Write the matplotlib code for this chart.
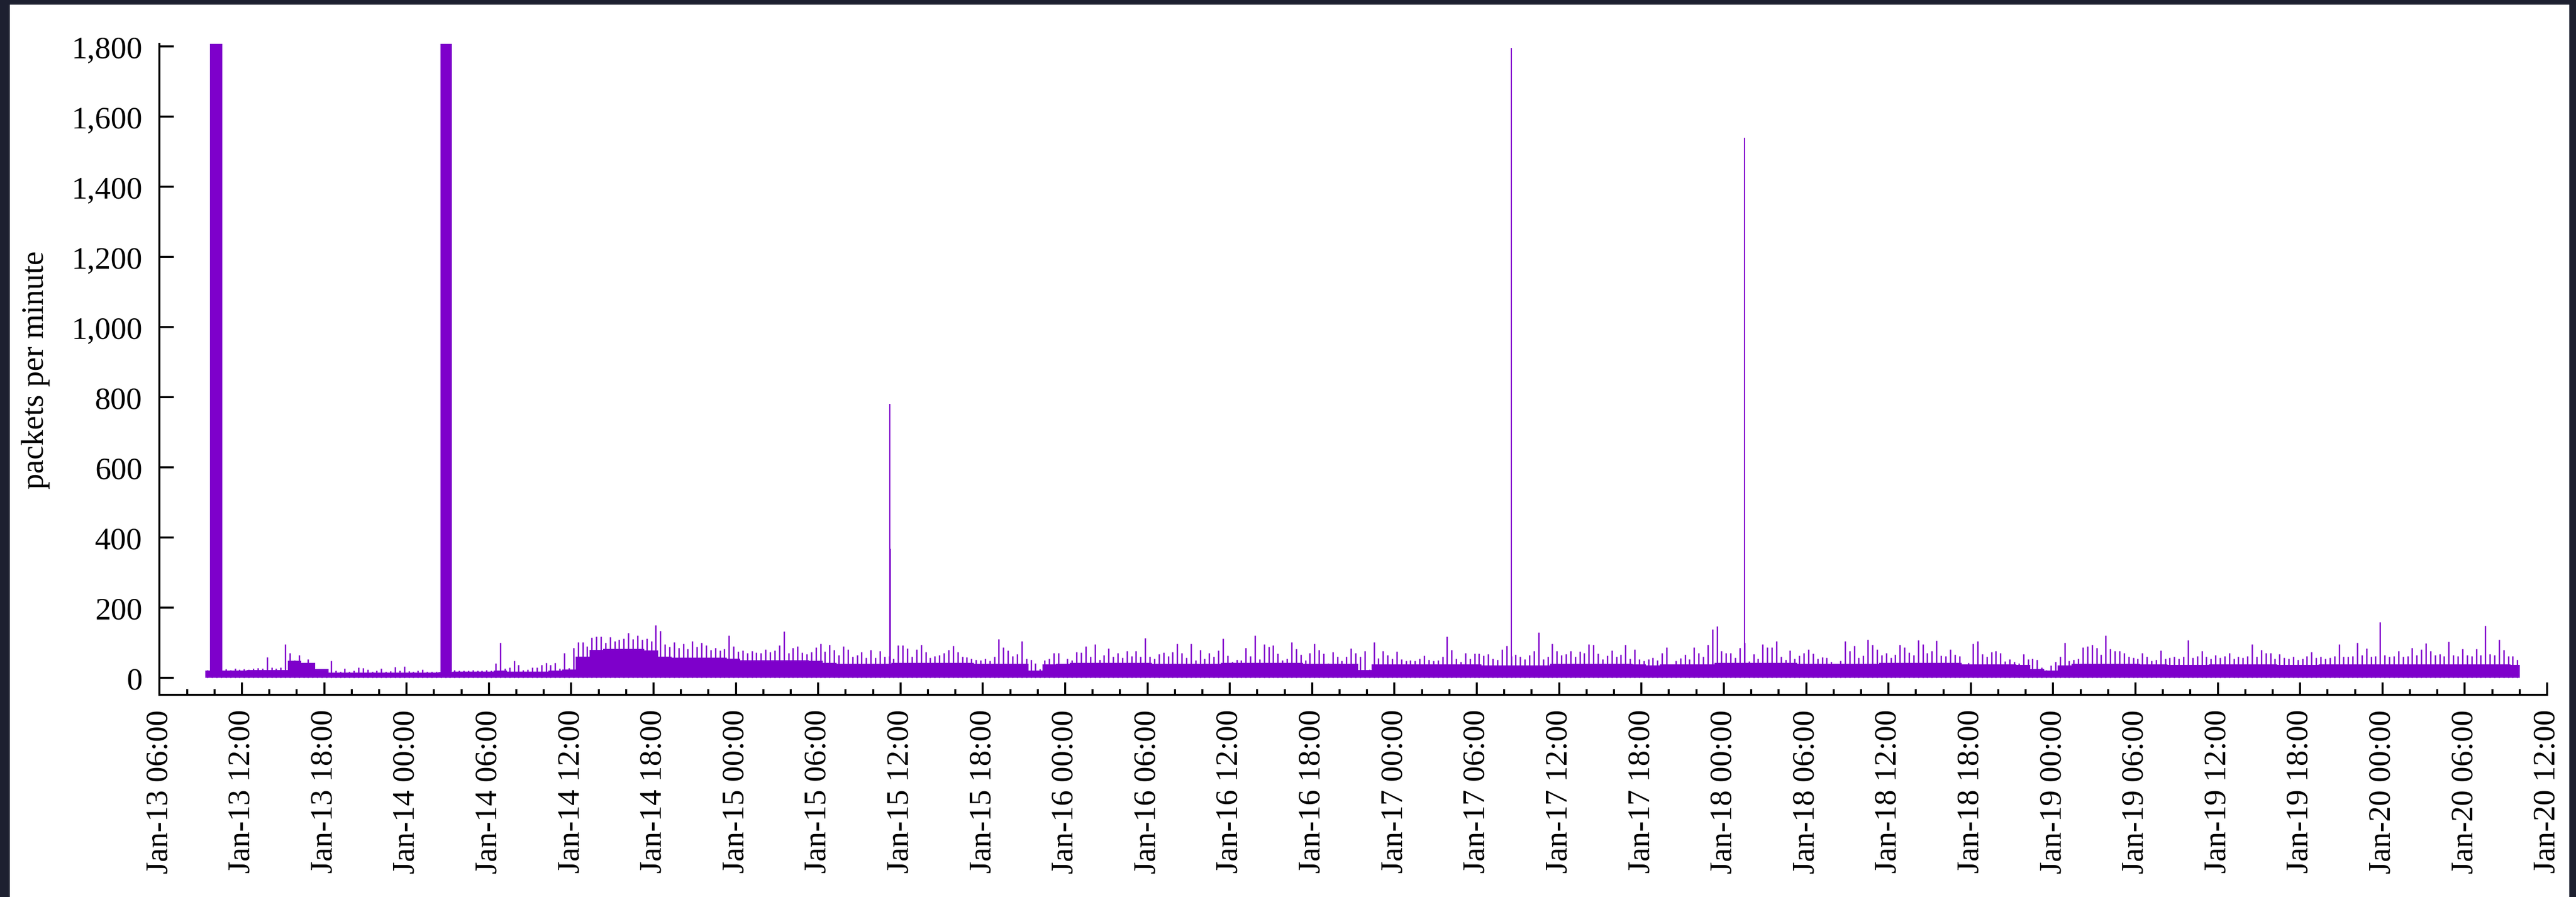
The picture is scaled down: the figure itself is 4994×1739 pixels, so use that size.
import numpy as np
import pandas as pd
import matplotlib
matplotlib.use('Agg')
import matplotlib.pyplot as plt
import matplotlib.dates as mdates
from matplotlib.patches import Rectangle
from matplotlib.ticker import FuncFormatter, MultipleLocator

plt.rcParams['font.family'] = ['Liberation Serif', 'DejaVu Serif']

purple = '#7e00cb'

# peak packets per minute in each 20 minute slot, 6 hours per row, from Jan-13 09:20
peak_rows = [
    [22, 20, 20, 22, 25, 22, 26, 24, 25, 24, 27, 28, 26, 59, 30, 27, 30, 96],
    [70, 50, 65, 40, 53, 28, 24, 22, 25, 48, 20, 18, 27, 18, 20, 30, 28, 24],
    [18, 20, 27, 18, 19, 31, 20, 32, 19, 18, 20, 24, 18, 17, 18, 18, 18, 18],
    [22, 20, 21, 20, 22, 21, 20, 22, 21, 41, 100, 27, 29, 48, 36, 22, 24, 30],
    [30, 36, 42, 37, 42, 26, 70, 28, 85, 101, 101, 90, 115, 117, 118, 100, 116, 105],
    [108, 112, 128, 110, 121, 108, 112, 105, 150, 134, 95, 88, 101, 85, 97, 82, 105, 88],
    [100, 92, 80, 85, 78, 82, 120, 89, 75, 78, 70, 76, 72, 70, 81, 74, 78, 92],
    [132, 70, 85, 90, 72, 68, 74, 87, 97, 75, 94, 79, 65, 89, 81, 60, 65, 74],
    [58, 79, 57, 76, 60, 62, 55, 93, 93, 84, 60, 81, 94, 74, 58, 62, 65, 70],
    [79, 91, 73, 60, 59, 55, 52, 50, 54, 48, 60, 110, 87, 78, 62, 68, 104, 55],
    [51, 41, 25, 50, 54, 70, 71, 40, 55, 50, 74, 72, 90, 60, 96, 52, 65, 83],
    [60, 70, 58, 77, 62, 76, 60, 113, 60, 55, 67, 72, 62, 74, 97, 71, 58, 97],
    [50, 80, 55, 71, 60, 78, 111, 63, 45, 51, 50, 85, 61, 121, 53, 95, 88, 92],
    [69, 50, 55, 102, 82, 66, 50, 70, 97, 79, 69, 41, 73, 60, 48, 60, 84, 71],
    [60, 76, 23, 102, 56, 76, 64, 55, 75, 53, 49, 50, 49, 54, 63, 52, 48, 50],
    [60, 117, 79, 55, 45, 70, 55, 69, 69, 63, 68, 55, 51, 81, 91, 62, 66, 60],
    [53, 65, 77, 129, 53, 60, 97, 77, 65, 68, 76, 60, 75, 70, 95, 94, 69, 53],
    [63, 78, 60, 66, 94, 55, 81, 53, 48, 53, 57, 50, 70, 87, 25, 49, 56, 66],
    [53, 87, 70, 60, 94, 138, 147, 77, 70, 70, 57, 85, 100, 47, 68, 55, 95, 87],
    [87, 105, 60, 52, 78, 55, 63, 70, 81, 69, 55, 59, 57, 45, 37, 49, 104, 77],
    [91, 57, 63, 109, 94, 81, 64, 71, 57, 66, 94, 86, 72, 65, 107, 96, 71, 77],
    [106, 63, 61, 81, 66, 61, 37, 42, 97, 105, 67, 60, 73, 77, 71, 47, 53, 45],
    [41, 67, 53, 54, 51, 30, 22, 35, 45, 60, 100, 49, 51, 55, 86, 90, 94, 85],
    [66, 121, 82, 76, 77, 71, 60, 58, 55, 71, 60, 49, 52, 78, 55, 57, 60, 55],
    [60, 107, 58, 62, 77, 60, 55, 65, 58, 62, 70, 55, 60, 58, 62, 96, 60, 79],
    [70, 70, 55, 67, 58, 55, 60, 52, 55, 62, 74, 58, 60, 55, 58, 62, 95, 60],
    [60, 62, 100, 65, 83, 60, 62, 158, 65, 60, 62, 76, 60, 62, 85, 65, 81, 98],
    [77, 65, 68, 62, 103, 65, 62, 82, 65, 62, 82, 65, 149, 68, 65, 109, 79, 62],
    [61, 52],
]

# level that most minutes of each hour reach, 6 hours per row, from Jan-13 09:20
level_rows = [
    [20, 20, 20, 22, 22, 22],
    [48, 42, 25, 14, 14, 14],
    [14, 14, 14, 14, 14, 16],
    [18, 18, 18, 20, 18, 18],
    [18, 20, 24, 60, 80, 82],
    [82, 82, 78, 60, 58, 58],
    [58, 58, 55, 50, 50, 50],
    [50, 50, 48, 42, 40, 40],
    [40, 40, 42, 42, 42, 42],
    [42, 42, 40, 40, 40, 40],
    [20, 38, 40, 42, 42, 42],
    [42, 42, 42, 40, 40, 40],
    [40, 40, 42, 42, 42, 42],
    [42, 42, 40, 40, 40, 40],
    [22, 38, 38, 38, 38, 38],
    [38, 38, 38, 35, 35, 35],
    [35, 35, 40, 40, 40, 40],
    [40, 40, 38, 35, 38, 38],
    [38, 38, 42, 42, 42, 42],
    [42, 42, 40, 40, 40, 40],
    [40, 40, 42, 42, 42, 42],
    [42, 42, 38, 38, 38, 38],
    [36, 25, 20, 35, 40, 40],
    [40, 40, 40, 38, 38, 36],
    [36, 36, 38, 38, 38, 38],
    [38, 36, 36, 36, 38, 38],
    [38, 38, 38, 38, 38, 38],
    [38, 38, 38, 38, 38, 38],
    [36],
]

# long bursts that run off the top of the axis
burst_start = ['2023-01-13 09:41', '2023-01-14 02:28']
burst_end = ['2023-01-13 10:34', '2023-01-14 03:18']
burst_vals = [2000, 2000]

# isolated one-minute spikes
spike_times = ['2023-01-15 11:14', '2023-01-15 11:15', '2023-01-17 08:31', '2023-01-18 01:30']
spike_vals = [780, 367, 1795, 1540]

start = pd.Timestamp('2023-01-13 09:20')
peaks = np.concatenate(peak_rows)
level = np.concatenate(level_rows)
end = start + pd.Timedelta(minutes=20 * len(peaks))

peak_t = mdates.date2num(pd.date_range(start, periods=len(peaks), freq='20min') + pd.Timedelta('10min'))
level_t = mdates.date2num(list(pd.date_range(start, periods=len(level), freq='h')) + [end])
level_y = np.append(level, level[-1])

fig = plt.figure(figsize=(49.94, 17.40), dpi=100, facecolor='#1d2030')
fig.add_artist(Rectangle((19 / 4994, 0), (4981 - 19) / 4994, 1730 / 1740,
                         transform=fig.transFigure, facecolor='white', edgecolor='none', zorder=-10))
ax = fig.add_axes([309.3 / 4994, 392 / 1740, (4938 - 309.3) / 4994, (1348 - 86) / 1740])
ax.set_facecolor('none')

ax.fill_between(level_t, 0, level_y, step='post', color=purple, linewidth=0)
ax.vlines(peak_t, 0, peaks, color=purple, linewidth=1.9)
bs = mdates.date2num(pd.to_datetime(burst_start))
be = mdates.date2num(pd.to_datetime(burst_end))
ax.bar(bs, burst_vals, width=be - bs, align='edge', color=purple, linewidth=0)
ax.vlines(mdates.date2num(pd.to_datetime(spike_times)), 0, spike_vals, color=purple, linewidth=1.6)

ax.set_xlim(mdates.date2num(pd.Timestamp('2023-01-13 06:00')), mdates.date2num(pd.Timestamp('2023-01-20 12:00')))
ax.set_ylim(-48.6, 1807)

for s in ['top', 'right']:
    ax.spines[s].set_visible(False)
for s in ['left', 'bottom']:
    ax.spines[s].set_linewidth(2.8)

ax.yaxis.set_major_locator(MultipleLocator(200))
ax.yaxis.set_major_formatter(FuncFormatter(lambda v, p: f'{int(v):,}'))
ax.xaxis.set_major_locator(mdates.HourLocator(byhour=range(0, 24, 6)))
ax.xaxis.set_minor_locator(mdates.HourLocator(byhour=range(0, 24, 2)))
ax.xaxis.set_major_formatter(mdates.DateFormatter('%b-%d %H:%M'))

ax.tick_params(axis='y', direction='in', length=20, width=2.8, pad=24, labelsize=44)
ax.tick_params(axis='x', which='major', direction='in', length=17, width=2.8, pad=20, labelsize=44, labelrotation=90)
ax.tick_params(axis='x', which='minor', direction='in', length=8, width=2.8)

ax.set_ylabel('packets per minute', fontsize=44, labelpad=30)

fig.savefig('out.png', dpi=100, facecolor=fig.get_facecolor())
